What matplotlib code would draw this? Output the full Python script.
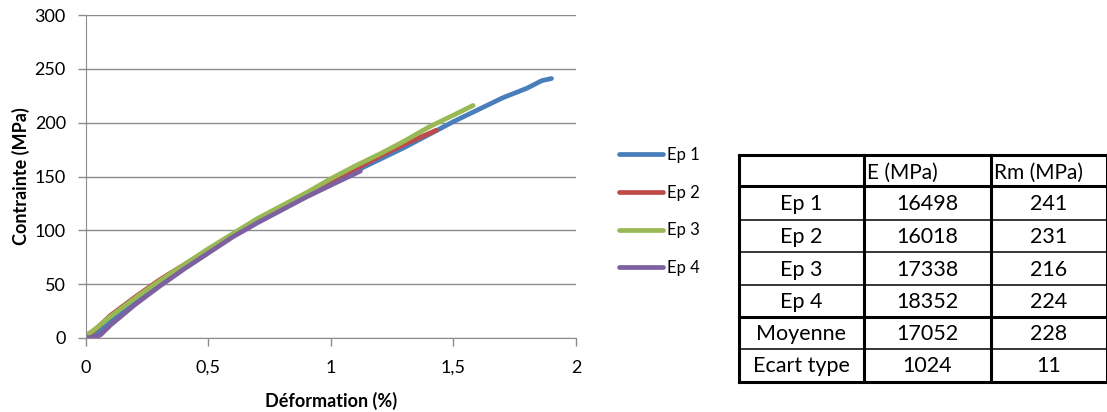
import matplotlib
matplotlib.use("Agg")
import matplotlib.pyplot as plt
import numpy as np

plt.rcParams['font.family'] = ['Lato', 'DejaVu Sans']

# ---- data ----
ep1_x = [0, 0.03, 0.05, 0.1, 0.2, 0.3, 0.4, 0.5, 0.6, 0.7, 0.8, 0.9, 1.0, 1.1, 1.2, 1.3, 1.4, 1.5, 1.6, 1.7, 1.8, 1.86, 1.9]
ep1_y = [0, 2, 5, 16, 34, 51, 67, 81, 95, 108, 120, 132, 144, 155, 166, 177, 189, 201, 212, 223, 232, 239, 241]
ep2_x = [0, 0.03, 0.1, 0.2, 0.3, 0.4, 0.5, 0.6, 0.7, 0.8, 0.9, 1.0, 1.1, 1.2, 1.3, 1.43]
ep2_y = [2, 6, 21, 38, 54, 68, 82, 96, 109, 121, 133, 145, 157, 169, 180, 193]
ep3_x = [0.01, 0.03, 0.1, 0.2, 0.3, 0.4, 0.5, 0.6, 0.7, 0.8, 0.9, 1.0, 1.1, 1.2, 1.3, 1.4, 1.5, 1.58]
ep3_y = [4, 7, 20, 37, 53, 68, 83, 97, 111, 123, 135, 148, 160, 171, 183, 196, 207, 216]
ep4_x = [0, 0.04, 0.06, 0.1, 0.2, 0.3, 0.4, 0.5, 0.6, 0.7, 0.8, 0.9, 1.0, 1.12]
ep4_y = [0, 1, 3, 12, 31, 48, 64, 79, 94, 107, 119, 131, 142, 155]
series_names = ["Ep 1", "Ep 2", "Ep 3", "Ep 4"]
series_colors = ["#4A7EBB", "#BE4B48", "#98B954", "#7D60A0"]

x_ticks = [0, 0.5, 1, 1.5, 2]
x_ticklabels = ["0", "0,5", "1", "1,5", "2"]
y_ticks = [0, 50, 100, 150, 200, 250, 300]

table_header = ["", "E (MPa)", "Rm (MPa)"]
row_labels = ["Ep 1", "Ep 2", "Ep 3", "Ep 4", "Moyenne", "Ecart type"]
e_values = [16498, 16018, 17338, 18352, 17052, 1024]
rm_values = [241, 231, 216, 224, 228, 11]

W, H = 1107, 412
fig = plt.figure(figsize=(W / 100, H / 100), dpi=100)

def px_axes(l, t, r, b):
    return fig.add_axes([l / W, 1 - b / H, (r - l) / W, (b - t) / H])

ax = px_axes(86, 15, 576, 338)
for xs, ys, c, n in zip([ep1_x, ep2_x, ep3_x, ep4_x], [ep1_y, ep2_y, ep3_y, ep4_y], series_colors, series_names):
    ax.plot(xs, ys, color=c, lw=3.4, label=n, solid_capstyle='round')
ax.set_xlim(0, 2)
ax.set_ylim(0, 300)
ax.set_xticks(x_ticks)
ax.set_xticklabels(x_ticklabels)
ax.set_yticks(y_ticks)
ax.grid(axis='y', color='#8C8C8C', lw=1)
ax.set_axisbelow(True)
for s in ['top', 'right']:
    ax.spines[s].set_visible(False)
for s in ['left', 'bottom']:
    ax.spines[s].set_color('#8C8C8C')
ax.tick_params(axis='both', colors='#8C8C8C', labelcolor='black', labelsize=13, length=5.5, width=1)
ax.tick_params(axis='x', pad=10)
ax.tick_params(axis='y', pad=9)
ax.set_xlabel("Déformation (%)", fontsize=13, fontweight='bold', labelpad=12)
ax.set_ylabel("Contrainte (MPa)", fontsize=13, fontweight='bold', labelpad=3)

leg = fig.legend(loc='upper left', bbox_to_anchor=(604 / W, 1 - 132 / H), frameon=False,
                 fontsize=12, handlelength=2.65, handletextpad=0.25, labelspacing=1.3)

# ---- table ----
col_edges = [739, 864, 991, 1107]
row_edges = [155, 186, 220, 252, 285, 317, 349, 382]
tax = px_axes(0, 0, W, H)
tax.set_xlim(0, W)
tax.set_ylim(H, 0)
tax.axis('off')
thick, thin = 2.2, 1.1
for i, y in enumerate(row_edges):
    lw = thick if i in (0, 1, 5, 7) else thin
    tax.plot([col_edges[0], col_edges[-1]], [y, y], color='black', lw=lw, solid_capstyle='projecting')
for x in col_edges:
    tax.plot([x, x], [row_edges[0], row_edges[-1]], color='black', lw=thick, solid_capstyle='projecting')

for j, h in enumerate(table_header):
    if h:
        tax.text(col_edges[j] + 3, (row_edges[0] + row_edges[1]) / 2 + 2, h, ha='left', va='center', fontsize=15)
for i, (lab, e, rm) in enumerate(zip(row_labels, e_values, rm_values)):
    yc = (row_edges[i + 1] + row_edges[i + 2]) / 2 + 1
    for j, val in enumerate([lab, str(e), str(rm)]):
        tax.text((col_edges[j] + col_edges[j + 1]) / 2, yc, val, ha='center', va='center', fontsize=15.5)

fig.savefig("out.png", dpi=100)
